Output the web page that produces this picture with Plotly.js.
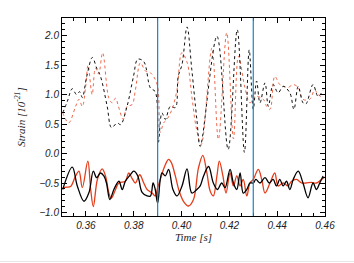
<!DOCTYPE html>
<html><head><meta charset="utf-8">
<script src="https://cdn.plot.ly/plotly-3.0.1.min.js"></script>
<style>html,body{margin:0;padding:0;background:#fff;}#chart{width:354px;height:263px;}
#rule{position:absolute;left:0;top:261px;width:354px;height:1px;background:#e6e6e6;}</style>
</head><body><div id="chart"></div><div id="rule"></div>
<script>
// Upper (offset) whitened traces, dotted
const tBlackDot = [0.3503,0.3522,0.3543,0.3561,0.3574,0.3585,0.3603,0.3627,0.3645,0.3661,0.3689,0.3707,0.3731,0.3745,0.3772,0.3799,0.3817,0.3842,0.3870,0.3890,0.3903,0.3918,0.3932,0.3953,0.3974,0.3986,0.4002,0.4023,0.4043,0.4064,0.4078,0.4148,0.4195,0.4233,0.4263,0.4283,0.4300,0.4314,0.4328,0.4349,0.4363,0.4383,0.4404,0.4425,0.4453,0.4470,0.4488,0.4508,0.4520,0.4550,0.4571,0.4592];
const vBlackDot = [0.69,0.88,1.10,1.00,1.05,0.95,1.30,1.63,1.45,1.31,0.80,0.44,0.52,0.49,0.80,1.31,1.60,1.56,1.11,1.05,0.19,0.69,0.58,0.80,0.78,1.31,1.51,2.15,1.42,0.58,0.12,1.99,0.07,2.10,0.02,1.76,0.75,1.23,0.86,1.20,0.80,1.17,1.03,1.14,1.03,0.75,1.14,0.86,0.84,1.17,0.97,1.08];
const tRedDot = [0.3503,0.3528,0.3557,0.3571,0.3585,0.3599,0.3609,0.3626,0.3640,0.3653,0.3670,0.3696,0.3710,0.3724,0.3736,0.3756,0.3772,0.3793,0.3807,0.3828,0.3849,0.3870,0.3898,0.3911,0.3925,0.3939,0.3960,0.3981,0.4001,0.4023,0.4043,0.4061,0.4082,0.4127,0.4154,0.4189,0.4217,0.4238,0.4265,0.4286,0.4307,0.4342,0.4356,0.4370,0.4390,0.4411,0.4428,0.4445,0.4467,0.4488,0.4508,0.4536,0.4557,0.4571,0.4592];
const vRedDot = [0.69,0.52,0.80,0.92,0.80,1.14,1.50,1.00,1.45,1.35,1.71,0.94,0.86,0.94,0.80,0.58,0.80,0.83,1.08,1.54,1.40,1.37,1.17,0.36,0.52,0.58,0.75,1.08,1.71,1.55,0.97,0.45,0.15,1.79,0.24,2.05,0.25,1.65,1.12,0.86,0.97,0.92,0.80,0.75,1.31,1.17,1.14,1.12,1.17,1.12,0.92,0.92,1.08,1.00,0.95];
// Lower traces, solid
const tBlackSolid = [0.3503,0.3543,0.3564,0.3592,0.3613,0.3631,0.3645,0.3661,0.3675,0.3686,0.3700,0.3717,0.3738,0.3752,0.3765,0.3786,0.3800,0.3817,0.3835,0.3856,0.3870,0.3881,0.3890,0.3900,0.3918,0.3932,0.3946,0.3964,0.3981,0.4002,0.4023,0.4043,0.4064,0.4078,0.4092,0.4113,0.4133,0.4150,0.4168,0.4182,0.4203,0.4217,0.4231,0.4245,0.4258,0.4273,0.4286,0.4300,0.4311,0.4328,0.4349,0.4367,0.4383,0.4397,0.4411,0.4425,0.4439,0.4453,0.4467,0.4488,0.4508,0.4529,0.4550,0.4564,0.4578,0.4592];
const vBlackSolid = [-0.61,-0.23,-0.55,-0.81,-0.66,-0.30,-0.41,-0.33,-0.38,-0.50,-0.78,-0.61,-0.47,-0.61,-0.47,-0.36,-0.30,-0.38,-0.66,-0.72,-0.72,-0.50,-0.61,-0.84,-0.33,-0.38,-0.27,-0.61,-0.72,-0.55,-0.26,-0.67,-0.61,-0.55,-0.38,-0.22,-0.50,-0.61,-0.50,-0.58,-0.27,-0.50,-0.61,-0.33,-0.67,-0.61,-0.50,-0.50,-0.44,-0.50,-0.41,-0.50,-0.44,-0.55,-0.44,-0.55,-0.47,-0.61,-0.44,-0.30,-0.50,-0.75,-0.50,-0.61,-0.50,-0.38];
const tRedSolid = [0.3503,0.3520,0.3536,0.3557,0.3571,0.3585,0.3608,0.3620,0.3631,0.3648,0.3668,0.3682,0.3696,0.3706,0.3724,0.3738,0.3765,0.3779,0.3793,0.3807,0.3825,0.3842,0.3856,0.3877,0.3890,0.3900,0.3911,0.3932,0.3946,0.3957,0.3974,0.3988,0.4008,0.4029,0.4050,0.4071,0.4089,0.4106,0.4120,0.4133,0.4148,0.4158,0.4173,0.4186,0.4203,0.4217,0.4231,0.4245,0.4258,0.4273,0.4286,0.4300,0.4321,0.4336,0.4349,0.4370,0.4390,0.4404,0.4425,0.4445,0.4460,0.4481,0.4502,0.4520,0.4543,0.4564,0.4585,0.4599];
const vRedSolid = [-0.58,-0.57,-0.56,-0.38,-0.30,-0.58,-0.13,-0.61,-0.90,-0.44,-0.26,-0.38,-0.67,-0.76,-0.61,-0.50,-0.47,-0.33,-0.42,-0.50,-0.36,-0.50,-0.61,-0.67,-0.72,-0.58,-0.44,-0.19,-0.10,-0.15,-0.38,-0.61,-0.81,-0.89,-0.78,-0.24,-0.03,-0.33,-0.64,-0.72,-0.38,-0.13,-0.38,-0.67,-0.33,-0.55,-0.38,-0.55,-0.44,-0.72,-0.50,-0.44,-0.27,-0.45,-0.67,-0.50,-0.33,-0.55,-0.50,-0.55,-0.47,-0.44,-0.50,-0.50,-0.49,-0.50,-0.44,-0.40];
const markerTimes = [0.39, 0.43];
const xTickVals = [0.36,0.38,0.40,0.42,0.44,0.46];
const xTickText = ['0.36','0.38','0.40','0.42','0.44','0.46'];
const yTickVals = [-1.0,-0.5,0.0,0.5,1.0,1.5,2.0];
const yTickText = ['\u22121.0','\u22120.5','0.0','0.5','1.0','1.5','2.0'];

const RED = '#e33d1a';
const mk = (x, y, color, dash, w) => ({x, y, type:'scatter', mode:'lines',
  line:{color, dash, width:w, shape:'spline', smoothing:1}, hoverinfo:'skip', showlegend:false});
const data = [
  mk(tRedDot, vRedDot, '#ec6a4e', 'dot', 1.0),
  mk(tBlackDot, vBlackDot, '#111', 'dot', 1.0),
  mk(tRedSolid, vRedSolid, RED, 'solid', 1.3),
  mk(tBlackSolid, vBlackSolid, '#000', 'solid', 1.3)
];
const tickFont = {family:'"Liberation Sans", Arial, sans-serif', size:10, color:'#222', style:'italic'};
const axBase = {showgrid:false, zeroline:false, showline:true, linecolor:'#000', linewidth:1,
  mirror:'allticks', ticks:'inside', ticklen:5, tickcolor:'#000', tickwidth:1, tickfont:tickFont};
const layout = {
  width:354, height:263, paper_bgcolor:'#fff', plot_bgcolor:'#fff',
  margin:{l:62, r:29, t:18, b:47},
  xaxis:Object.assign({}, axBase, {range:[0.35,0.46], tickmode:'array', tickvals:xTickVals, ticktext:xTickText,
    minor:{dtick:0.005, tick0:0.35, ticks:'inside', ticklen:3, tickcolor:'#000', showgrid:false},
    title:{text:'Time [s]', font:{family:'"Liberation Serif", serif', size:11, color:'#222', style:'italic'}, standoff:3}}),
  yaxis:Object.assign({}, axBase, {range:[-1.06,2.3], tickmode:'array', tickvals:yTickVals, ticktext:yTickText,
    minor:{dtick:0.1, tick0:0, ticks:'inside', ticklen:3, tickcolor:'#000', showgrid:false},
    title:{text:'Strain [10<sup>-21</sup>]', font:{family:'"Liberation Serif", serif', size:11, color:'#222', style:'italic'}, standoff:11}}),
  shapes: markerTimes.map(t => ({type:'line', xref:'x', yref:'paper', x0:t, x1:t, y0:0, y1:1,
    line:{color:'#1a84c8', width:1.2}}))
};
Plotly.newPlot('chart', data, layout, {staticPlot:true, displayModeBar:false});
</script></body></html>
